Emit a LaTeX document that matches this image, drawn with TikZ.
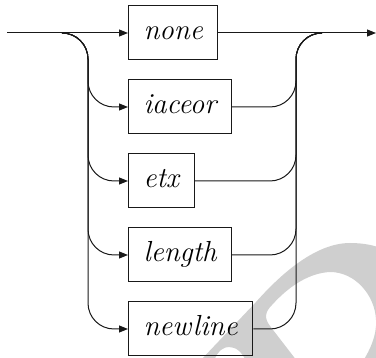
\documentclass[tikz,border=0pt]{standalone}
\usetikzlibrary{arrows.meta}
\begin{document}
\begin{tikzpicture}[x=1pt,y=-1pt,
  rr/.style={line width=1pt, draw=black!90, rounded corners=26pt},
  arr/.style={-{Triangle[length=9pt,width=7pt]}},
  kw/.style={draw=black!90, line width=1pt, anchor=west,
    font=\fontsize{29}{34}\selectfont\itshape,
    minimum height=54pt, inner xsep=15pt, inner ysep=0pt,
    text height=22pt, text depth=8pt},
  wmark/.style={fill=black!19, even odd rule}]
\useasboundingbox (0,0) rectangle (376,358);
% watermark
\begin{scope}
\clip (0,0) rectangle (376,358);
\path[wmark] (200,361) -- (256,302) .. controls (280,275) and (315,243) .. (350,243)
   .. controls (365,243) and (376,246) .. (380,248) -- (380,361) -- cycle
   (297,361) -- (270,326) .. controls (264,318) and (265,312) .. (272,305)
   .. controls (290,285) and (310,273) .. (330,272)
   .. controls (355,272) and (375,295) .. (376,320)
   .. controls (377,335) and (370,350) .. (363,361) -- cycle
   (214,361) .. controls (218,350) and (224,347) .. (229,347)
   .. controls (236,347) and (242,352) .. (246,361) -- cycle;
\end{scope}
% nodes
\node[kw] (none) at (128,33) {none};
\node[kw] (iaceor) at (128,107) {iaceor};
\node[kw] (etx) at (128,181) {etx};
\node[kw] (length) at (128,255) {length};
\node[kw] (newline) at (128,329) {newline};
\coordinate (start) at (7,33);
\coordinate (lsplit) at (62,33);
\coordinate (lx) at (88,33);
\coordinate (rx) at (296,33);
\coordinate (rmerge) at (322,33);
\coordinate (end) at (376,33);
% main line
\draw[rr,arr] (start) -- (none.west);
\draw[rr,arr] (none.east) -- (end);
% branches
\foreach \n in {iaceor,etx,length,newline}{
  \draw[rr,arr] (lsplit) -| (lx |- \n.west) -- (\n.west);
  \draw[rr] (\n.east) -| (rx) -- (rmerge);
}
\end{tikzpicture}
\end{document}
